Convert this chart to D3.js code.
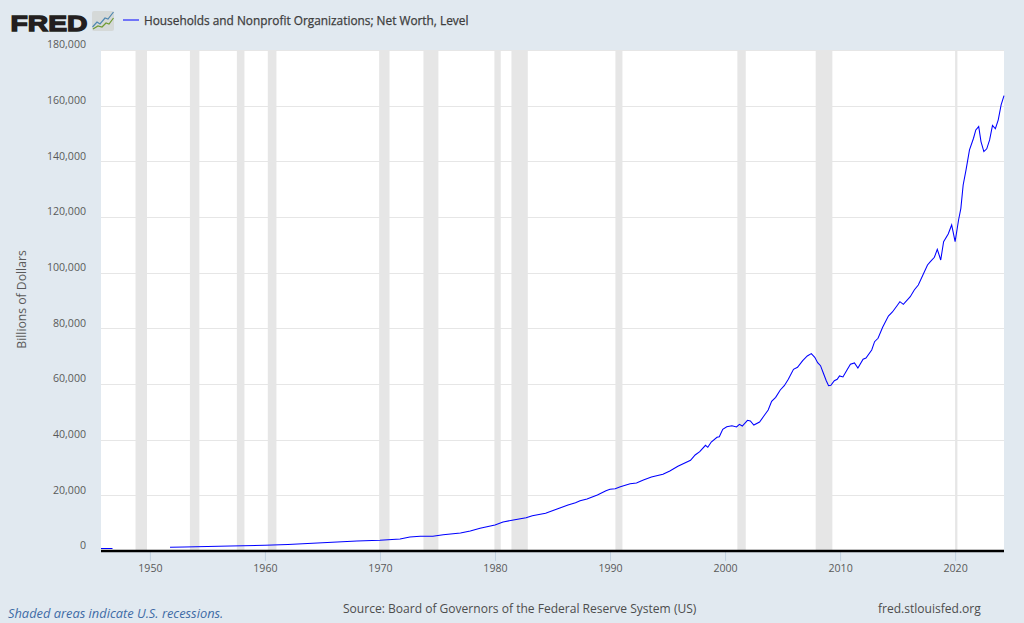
<!DOCTYPE html>
<html>
<head>
<meta charset="utf-8">
<script src="https://cdn.jsdelivr.net/npm/d3@7"></script>
<style>
  html, body { margin: 0; padding: 0; background: #e1e9f0; overflow: hidden; }
  svg { display: block; font-family: "Open Sans", sans-serif; }
  .axis text { fill: #595959; font-size: 10.6px; font-family: "Open Sans", sans-serif; }
</style>
</head>
<body>
<svg id="chart"></svg>
<script>
const width = 1024,
      height = 623;

// year fractions and net worth (billions of dollars)
const years = [
  1945.75, 1946.75, 1947,
  1951.75, 1953, 1955, 1957, 1960, 1962, 1965, 1968, 1970, 1971.75, 1972.6, 1973.5, 1974.6, 1975.5,
  1977, 1977.85, 1978.7, 1980, 1980.7, 1981.6, 1982.7, 1983.25, 1984.4, 1985.4, 1986.35, 1987,
  1987.4, 1988, 1988.9, 1989.65, 1990, 1990.45, 1990.9, 1991.75, 1992.3, 1992.9, 1993.6, 1994.6,
  1995.2, 1995.9, 1997, 1997.4, 1997.8, 1998.3, 1998.5, 1998.8, 1999.3, 1999.5, 1999.8, 2000.15,
  2000.6, 2001, 2001.25, 2001.5, 2001.95, 2002.2, 2002.5, 2003, 2003.5, 2003.75, 2004.05, 2004.4,
  2004.8, 2005.15, 2005.5, 2005.95, 2006.3, 2006.75, 2007.15, 2007.5, 2007.8, 2008.05, 2008.3,
  2008.55, 2008.8, 2009, 2009.2, 2009.5, 2009.75, 2009.95, 2010.25, 2010.6, 2010.9, 2011.25,
  2011.55, 2012, 2012.25, 2012.75, 2013, 2013.3, 2013.7, 2014.2, 2014.55, 2014.95, 2015.2, 2015.5,
  2016.1, 2016.45, 2016.8, 2017.2, 2017.6, 2017.85, 2018.2, 2018.45, 2018.75, 2019, 2019.4, 2019.7,
  2020, 2020.3, 2020.5, 2020.7, 2020.95, 2021.25, 2021.6, 2021.8, 2022.05, 2022.25, 2022.5, 2022.75,
  2023, 2023.25, 2023.5, 2023.75, 2024, 2024.25
];
const netWorth = [
  880, 900, null,
  1330, 1450, 1650, 1800, 2050, 2350, 2980, 3590, 3840, 4310, 5030, 5280, 5280, 5860,
  6470, 7190, 8150, 9350, 10420, 11140, 11960, 12680, 13540, 15090, 16530, 17350,
  18070, 18680, 20120, 21670, 22170, 22380, 23100, 24180, 24430, 25500, 26590, 27560,
  28740, 30430, 32590, 34500, 35680, 37980, 37260, 39160, 40850, 41070, 43730, 44660,
  45020, 44550, 45520, 44910, 46960, 46700, 45270, 46350, 49220, 50660, 53780, 55220,
  57850, 59390, 61690, 65280, 66000, 68380, 70070, 70900, 69600, 67660, 66580,
  63850, 61190, 59390, 59530, 61190, 61690, 62880, 62520, 65030, 67080, 67550,
  65750, 68880, 69350, 72220, 75200, 76420, 80370, 84430, 85870, 88130, 89570, 88630,
  91360, 93770, 95570, 99160, 102760, 103950, 105530, 108400, 104560, 111140, 113900, 117140,
  111140, 118930, 123120, 131500, 136900, 144100, 148300, 151300, 152500, 147100, 143500, 144500,
  147700, 152900, 151700, 154900, 160300, 163600
];

const recessionStarts = [1948.75, 1953.48, 1957.56, 1960.25, 1969.93, 1973.78, 1979.95, 1981.43, 1990.47, 2001.07, 2007.88, 2020.0];
const recessionEnds   = [1949.75, 1954.3,  1958.22, 1961.0,  1970.83, 1975.08, 1980.5,  1982.85, 1991.08, 2001.8,  2009.33, 2020.2];

const yTicks = [0, 20000, 40000, 60000, 80000, 100000, 120000, 140000, 160000, 180000];
const xTicks = [1950, 1960, 1970, 1980, 1990, 2000, 2010, 2020];

const seriesName = "Households and Nonprofit Organizations; Net Worth, Level";

const svg = d3.select("#chart")
  .attr("width", width)
  .attr("height", height);

const x = d3.scaleLinear().domain([1945.75, 2024.25]).range([101, 1004]);
const y = d3.scaleLinear().domain([0, 180000]).range([551, 50]);

svg.append("rect")
  .attr("x", x.range()[0])
  .attr("y", y.range()[1])
  .attr("width", x.range()[1] - x.range()[0])
  .attr("height", y.range()[0] - y.range()[1])
  .attr("fill", "#fff");

// grid
svg.append("g")
  .selectAll("line")
  .data(yTicks)
  .join("line")
  .attr("x1", x.range()[0])
  .attr("x2", x.range()[1])
  .attr("y1", d => Math.round(y(d)) + 0.5)
  .attr("y2", d => Math.round(y(d)) + 0.5)
  .attr("stroke", "#e6e6e6");

// recessions
svg.append("g")
  .selectAll("rect")
  .data(recessionStarts)
  .join("rect")
  .attr("x", d => x(d))
  .attr("y", y.range()[1])
  .attr("width", (d, i) => x(recessionEnds[i]) - x(d))
  .attr("height", y.range()[0] - y.range()[1])
  .attr("fill", "#e6e6e6");

// x axis
const xAxis = svg.append("g")
  .attr("class", "axis")
  .attr("transform", `translate(0,${y(0)})`)
  .call(d3.axisBottom(x).tickValues(xTicks).tickFormat(d3.format("d")).tickSize(10).tickPadding(3));
xAxis.select(".domain").remove();
xAxis.selectAll("line").attr("stroke", "#c0d0e0");

// y axis, labels sit above their grid lines
const yAxis = svg.append("g")
  .attr("class", "axis")
  .attr("transform", "translate(86,0)")
  .call(d3.axisLeft(y).tickValues(yTicks).tickFormat(d3.format(",")).tickSize(0).tickPadding(0));
yAxis.select(".domain").remove();
yAxis.selectAll("text").attr("dy", "-0.2em");

const line = d3.line()
  .defined(i => netWorth[i] !== null)
  .x(i => x(years[i]))
  .y(i => y(netWorth[i]));

svg.append("path")
  .attr("d", line(d3.range(years.length)))
  .attr("fill", "none")
  .attr("stroke", "#0000ff")
  .attr("stroke-width", 1.05);

// baseline
svg.append("line")
  .attr("x1", x.range()[0])
  .attr("x2", x.range()[1])
  .attr("y1", y(0))
  .attr("y2", y(0))
  .attr("stroke", "#000")
  .attr("stroke-width", 2.4);

// y title
svg.append("text")
  .attr("transform", "translate(26,299.5) rotate(-90)")
  .attr("text-anchor", "middle")
  .attr("font-size", 12.2)
  .attr("fill", "#595959")
  .text("Billions of Dollars");

// logo
const logo = svg.append("g");
logo.append("text")
  .attr("x", 10.5)
  .attr("y", 30.5)
  .attr("font-family", "Liberation Sans")
  .attr("font-weight", "bold")
  .attr("font-size", 22.5)
  .attr("textLength", 77)
  .attr("lengthAdjust", "spacingAndGlyphs")
  .attr("fill", "#231f20")
  .attr("stroke", "#231f20")
  .attr("stroke-width", 1.3)
  .text("FRED");
logo.append("rect")
  .attr("x", 92)
  .attr("y", 11)
  .attr("width", 22)
  .attr("height", 20)
  .attr("rx", 2)
  .attr("fill", "#d5d9d8");
logo.append("path")
  .attr("d", "M92.5 27L97 22L100 24L105 18L108 19L113.5 12")
  .attr("fill", "none")
  .attr("stroke", "#4f87b0")
  .attr("stroke-width", 1.2);
logo.append("path")
  .attr("d", "M93 29L98 26L102 27L106 23L109 24L113.5 18")
  .attr("fill", "none")
  .attr("stroke", "#6f9a33")
  .attr("stroke-width", 1.2);

// legend
svg.append("line")
  .attr("x1", 123)
  .attr("x2", 139)
  .attr("y1", 20)
  .attr("y2", 20)
  .attr("stroke", "#0000ff")
  .attr("stroke-width", 1);
svg.append("text")
  .attr("x", 144)
  .attr("y", 25)
  .attr("font-size", 11.85)
  .attr("fill", "#3d3d3d")
  .attr("stroke", "#3d3d3d")
  .attr("stroke-width", 0.25)
  .text(seriesName);

// footer
svg.append("text")
  .attr("x", 8)
  .attr("y", 618)
  .attr("font-size", 12.85)
  .attr("font-style", "italic")
  .attr("fill", "#3e6ba6")
  .text("Shaded areas indicate U.S. recessions.");
svg.append("text")
  .attr("x", 343)
  .attr("y", 613)
  .attr("font-size", 12.05)
  .attr("fill", "#4d4d4d")
  .text("Source: Board of Governors of the Federal Reserve System (US)");
svg.append("text")
  .attr("x", 878)
  .attr("y", 613)
  .attr("font-size", 12.05)
  .attr("fill", "#4d4d4d")
  .text("fred.stlouisfed.org");
</script>
</body>
</html>
